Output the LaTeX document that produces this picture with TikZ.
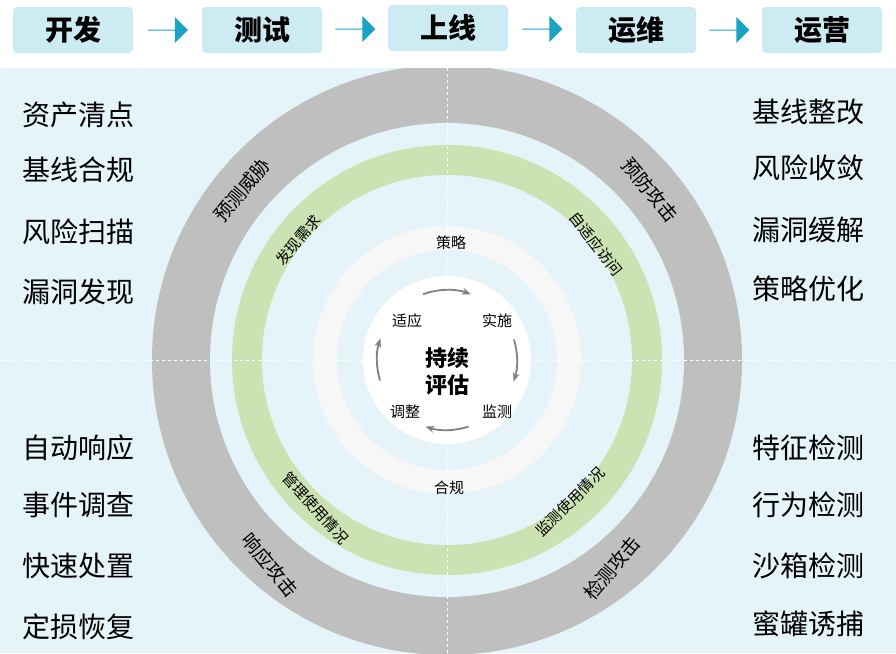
\documentclass[tikz,border=0pt]{standalone}
\usepackage{fontspec}
\setmainfont{Noto Sans CJK SC}
\usetikzlibrary{calc,arrows.meta,shapes.arrows}
\definecolor{stagefill}{HTML}{CDEBF3}
\definecolor{flowblue}{HTML}{1BA3C6}
\definecolor{panel}{HTML}{E5F4F8}
\definecolor{ringgray}{HTML}{BFBFBF}
\definecolor{ringgreen}{HTML}{CBE2B2}
\definecolor{ringwhite}{HTML}{F7F7F7}
\tikzset{
  stage/.style={fill=stagefill, rounded corners=4pt, minimum width=120pt, minimum height=46pt, font=\bfseries\fontsize{28}{28}\selectfont},
  flow/.style={single arrow, fill=flowblue, minimum height=40pt, minimum width=26pt, single arrow head extend=5pt, inner sep=0pt},
  side/.style={font=\fontsize{28}{28}\selectfont},
  ringtext/.style={font=\fontsize{19}{19}\selectfont},
  greentext/.style={font=\fontsize{15}{15}\selectfont},
  cyclestep/.style={font=\fontsize{15}{15}\selectfont}
}
\begin{document}
\begin{tikzpicture}[x=1pt,y=-1pt]
\useasboundingbox (0,0) rectangle (896,653);
\fill[white] (0,0) rectangle (896,653);
% stages along the top
\node[stage] (dev) at (73,30) {开发};
\node[stage] (test) at (262,30) {测试};
\node[stage] (live) at (448,28) {上线};
\node[stage] (ops) at (636,30) {运维};
\node[stage] (run) at (822,30) {运营};
\foreach \a/\b in {dev/test,test/live,live/ops,ops/run}
  \node[flow] at ($(\a)!0.5!(\b)$) {};
% panel and rings
\fill[panel] (0,68) rectangle (896,653);
\coordinate (c) at (447,360);
\begin{scope}
\clip (0,68) rectangle (896,653);
\fill[ringgray] (c) circle[radius=295pt];
\fill[panel] (c) circle[radius=237pt];
\fill[ringgreen] (c) circle[radius=215pt];
\fill[panel] (c) circle[radius=185pt];
\fill[ringwhite] (c) circle[radius=134pt];
\fill[panel] (c) circle[radius=110pt];
\fill[white] (c) circle[radius=84pt];
\draw[white, dashed, line width=0.8pt] (0,360) -- (896,360);
\draw[white, dashed, line width=0.8pt] (447,68) -- (447,653);
\end{scope}
% ring labels
\node[ringtext, rotate=50] (threat) at (242,190) {预测威胁};
\node[ringtext, rotate=-50] (prevent) at (650,190) {预防攻击};
\node[ringtext, rotate=-50] (respond) at (270,565) {响应攻击};
\node[ringtext, rotate=50] (detect) at (612,568) {检测攻击};
\node[greentext, rotate=50] (need) at (298,240) {发现需求};
\node[greentext, rotate=-52] (adapt) at (596,244) {自适应访问};
\node[greentext, rotate=-48] (manage) at (316,508) {管理使用情况};
\node[greentext, rotate=45] (watch) at (570,502) {监测使用情况};
\node[cyclestep] (policy) at (451,243) {策略};
\node[cyclestep] (comply) at (449,488) {合规};
% inner cycle
\node[cyclestep] (fit) at (407,321) {适应};
\node[cyclestep] (act) at (497,321) {实施};
\node[cyclestep] (mon) at (497,412) {监测};
\node[cyclestep] (fix) at (405,412) {调整};
\node[font=\bfseries\fontsize{22}{27}\selectfont, align=center] (core) at (447,372) {持续\\评估};
\foreach \s/\e in {110/70,17/-18,-72/-108,197/162}
  \draw[gray, line width=1.8pt, -{Stealth[length=9pt]}] ($(c)+(\s:70pt)$) arc[start angle=\s, end angle=\e, radius=70pt];
% left column
\node[side] (l1) at (78,115) {资产清点};
\node[side] (l2) at (78,170) {基线合规};
\node[side] (l3) at (78,232) {风险扫描};
\node[side] (l4) at (78,292) {漏洞发现};
\node[side] (l5) at (78,448) {自动响应};
\node[side] (l6) at (78,505) {事件调查};
\node[side] (l7) at (78,566) {快速处置};
\node[side] (l8) at (78,627) {定损恢复};
% right column
\node[side] (r1) at (808,112) {基线整改};
\node[side] (r2) at (808,168) {风险收敛};
\node[side] (r3) at (808,230) {漏洞缓解};
\node[side] (r4) at (808,289) {策略优化};
\node[side] (r5) at (808,448) {特征检测};
\node[side] (r6) at (808,505) {行为检测};
\node[side] (r7) at (808,566) {沙箱检测};
\node[side] (r8) at (808,624) {蜜罐诱捕};
\end{tikzpicture}
\end{document}
